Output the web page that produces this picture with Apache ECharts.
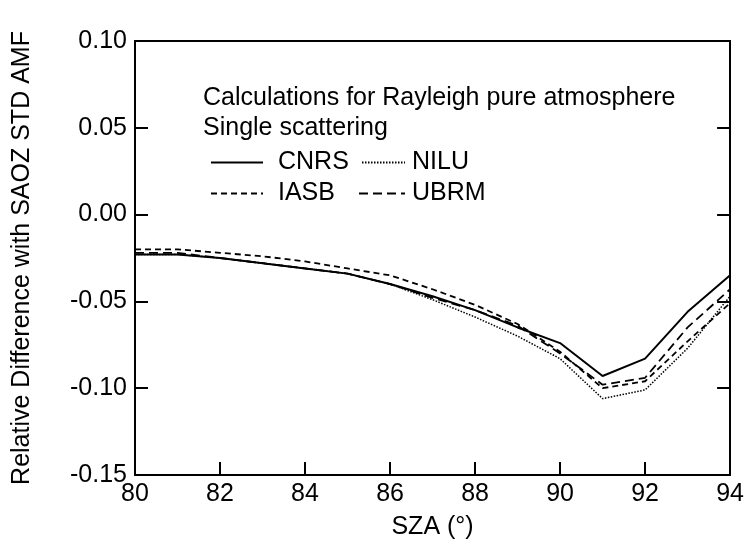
<!DOCTYPE html>
<html>
<head>
<meta charset="utf-8">
<script src="https://cdn.jsdelivr.net/npm/echarts@6/dist/echarts.min.js"></script>
<style>
  html, body { margin: 0; padding: 0; background: #fff; }
  #chart { width: 747px; height: 560px; }
</style>
</head>
<body>
<div id="chart"></div>
<script>
// Solar zenith angle (degrees)
const sza = [80, 81, 82, 83, 84, 85, 86, 87, 88, 89, 90, 91, 92, 93, 94];

// Relative difference with SAOZ standard AMF, per model
const cnrs = [-0.023, -0.023, -0.025, -0.028, -0.031, -0.034, -0.040, -0.047, -0.055, -0.065, -0.074, -0.093, -0.083, -0.056, -0.035];
const iasb = [-0.020, -0.020, -0.022, -0.024, -0.027, -0.031, -0.035, -0.043, -0.052, -0.063, -0.079, -0.100, -0.096, -0.073, -0.051];
const nilu = [-0.023, -0.023, -0.025, -0.028, -0.031, -0.034, -0.040, -0.049, -0.059, -0.070, -0.083, -0.106, -0.101, -0.077, -0.047];
const ubrm = [-0.022, -0.022, -0.025, -0.028, -0.031, -0.034, -0.040, -0.048, -0.055, -0.064, -0.080, -0.098, -0.094, -0.065, -0.043];

const titleLines = ['Calculations for Rayleigh pure atmosphere', 'Single scattering'];

const FONT = '"Liberation Sans", Arial, sans-serif';
const FS = 25;

function pairs(ys) { return sza.map((x, i) => [x, ys[i]]); }

function mkSeries(name, ys, width, dash) {
  return {
    name: name,
    type: 'line',
    data: pairs(ys),
    showSymbol: false,
    symbol: 'none',
    animation: false,
    itemStyle: { color: '#000' },
    lineStyle: { color: '#000', width: width, type: dash }
  };
}

// one legend entry per component so each sample/label can sit in its own column
function mkLegend(name, left, top, sampleWidth, textPad) {
  return {
    data: [name],
    left: left, top: top,
    itemWidth: sampleWidth, itemHeight: 14,
    selectedMode: false,
    itemStyle: { color: 'rgba(0,0,0,0)', borderWidth: 0, opacity: 0 },
    textStyle: { fontFamily: FONT, fontSize: FS, color: '#000', padding: [0, 0, 0, textPad] }
  };
}

const chart = echarts.init(document.getElementById('chart'), null, { renderer: 'canvas' });

const axisLine = { show: true, onZero: false, lineStyle: { color: '#000', width: 2 } };
const tickIn = { show: true, inside: true, length: 13, lineStyle: { color: '#000', width: 2 } };

chart.setOption({
  backgroundColor: '#fff',
  animation: false,
  grid: { left: 135, right: 15, top: 41, bottom: 85, containLabel: false },
  xAxis: [
    {
      type: 'value', min: 80, max: 94, interval: 2, position: 'bottom',
      name: 'SZA (°)', nameLocation: 'middle', nameGap: 40,
      nameTextStyle: { fontFamily: FONT, fontSize: FS, color: '#000' },
      axisLine: axisLine, axisTick: tickIn,
      axisLabel: { fontFamily: FONT, fontSize: FS, color: '#000', margin: 7 },
      splitLine: { show: false }
    },
    {
      type: 'value', min: 80, max: 94, interval: 2, position: 'top',
      axisLine: axisLine, axisTick: { show: false },
      axisLabel: { show: false }, splitLine: { show: false }
    }
  ],
  yAxis: [
    {
      type: 'value', min: -0.15, max: 0.10, interval: 0.05, position: 'left',
      name: 'Relative Difference with SAOZ STD AMF', nameLocation: 'middle', nameGap: 100,
      nameTextStyle: { fontFamily: FONT, fontSize: FS, color: '#000' },
      axisLine: axisLine, axisTick: tickIn,
      axisLabel: { fontFamily: FONT, fontSize: FS, color: '#000', margin: 8,
        formatter: v => v.toFixed(2) },
      splitLine: { show: false }
    },
    {
      type: 'value', min: -0.15, max: 0.10, interval: 0.05, position: 'right',
      axisLine: axisLine, axisTick: tickIn,
      axisLabel: { show: false }, splitLine: { show: false }
    }
  ],
  legend: [
    mkLegend('CNRS', 205, 145, 52, 10),
    mkLegend('NILU', 356, 145, 43, 2),
    mkLegend('IASB', 205, 176, 52, 10),
    mkLegend('UBRM', 353, 176, 46, 2)
  ],
  graphic: titleLines.map((t, i) => ({
    type: 'text', left: 203, top: 86 + i * 30,
    style: { text: t, font: FS + 'px ' + FONT, fill: '#000' }
  })),
  series: [
    mkSeries('CNRS', cnrs, 2, 'solid'),
    mkSeries('NILU', nilu, 1.5, [1.5, 1.5]),
    mkSeries('IASB', iasb, 1.8, [6, 4]),
    mkSeries('UBRM', ubrm, 1.8, [9, 5])
  ]
});
</script>
</body>
</html>
